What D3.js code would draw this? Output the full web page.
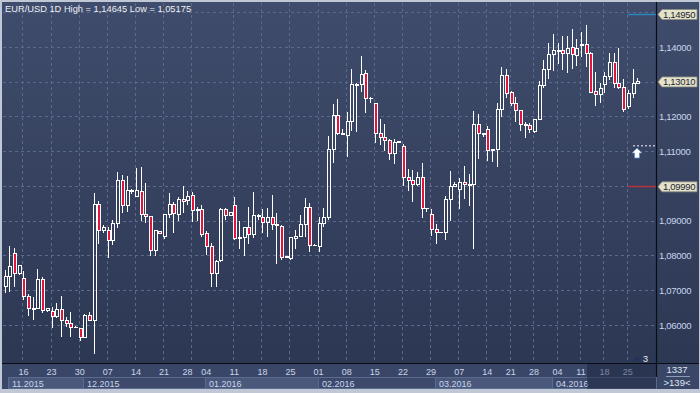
<!DOCTYPE html>
<html>
<head>
<meta charset="utf-8">
<script src="https://cdn.jsdelivr.net/npm/d3@7"></script>
<style>
  html, body { margin: 0; padding: 0; background: #c3cad8; }
  svg { display: block; }
  text { font-family: "Liberation Sans", Arial, sans-serif; }
</style>
</head>
<body>
<div id="chart"></div>
<script>
// EUR/USD daily candles, 11 Nov 2015 .. 27 Apr 2016 (incl. sunday bars)
var open = [1.0710,1.0739,1.0806,1.0749,1.0734,1.0683,1.0645,1.0647,1.0731,1.0641,1.0638,1.0624,1.0645,1.0612,1.0605,1.0593,1.0591,1.0565,1.0628,1.0614,
  1.0948,1.0871,1.0873,1.0843,1.0893,1.1015,1.0943,1.0987,1.0971,1.0984,1.0919,1.0912,1.0814,1.0869,1.0856,1.0919,1.0947,1.0919,1.0962,1.0958,
  1.0974,1.0929,1.0931,1.0864,1.0827,1.0749,1.0787,1.0933,1.0915,1.0945,1.0849,1.0851,1.0880,1.0861,1.0914,1.0910,1.0896,1.0910,1.0890,1.0883,
  1.0795,1.0792,1.0850,1.0856,1.0890,1.0939,1.0829,1.0827,1.0893,1.0910,1.1104,1.1202,1.1148,1.1144,1.1185,1.1290,1.1291,1.1324,1.1252,1.1238,
  1.1152,1.1140,1.1130,1.1094,1.1125,1.1113,1.1024,1.1017,1.1005,1.1024,1.0934,1.0917,1.0875,1.0866,1.0866,1.0960,1.0998,1.0989,1.1011,1.1003,
  1.1003,1.1178,1.1149,1.1164,1.1101,1.1106,1.1221,1.1317,1.1270,1.1238,1.1216,1.1178,1.1173,1.1156,1.1192,1.1289,1.1336,1.1379,1.1387,1.1389,
  1.1382,1.1398,1.1375,1.1405,1.1406,1.1382,1.1271,1.1264,1.1291,1.1315,1.1356,1.1296,1.1284,1.1228,1.1267,1.1294];
var high = [1.0758,1.0827,1.0822,1.0772,1.0755,1.0689,1.0681,1.0760,1.0739,1.0649,1.0653,1.0663,1.0683,1.0624,1.0637,1.0596,1.0592,1.0631,1.0638,1.0981,
  1.0957,1.0888,1.0883,1.0902,1.1041,1.1032,1.1029,1.0991,1.1051,1.1056,1.1008,1.0914,1.0872,1.0871,1.0920,1.0981,1.0955,1.0968,1.1000,1.0986,
  1.0984,1.0940,1.0945,1.0871,1.0835,1.0787,1.0936,1.0936,1.0924,1.0968,1.0899,1.0882,1.0939,1.0982,1.0920,1.0935,1.0936,1.0974,1.0921,1.0888,
  1.0798,1.0853,1.0873,1.0917,1.0965,1.0950,1.0832,1.0910,1.0938,1.1144,1.1235,1.1250,1.1163,1.1214,1.1336,1.1295,1.1374,1.1334,1.1255,1.1239,
  1.1193,1.1178,1.1135,1.1135,1.1129,1.1120,1.1049,1.1046,1.1041,1.1065,1.0936,1.0933,1.0890,1.0869,1.0972,1.1043,1.1012,1.1022,1.1058,1.1034,
  1.1217,1.1207,1.1151,1.1173,1.1107,1.1240,1.1342,1.1336,1.1273,1.1255,1.1217,1.1183,1.1180,1.1193,1.1302,1.1363,1.1411,1.1437,1.1412,1.1432,
  1.1432,1.1451,1.1422,1.1444,1.14645,1.1387,1.1327,1.1296,1.1327,1.1384,1.1384,1.1396,1.1307,1.1276,1.1336,1.1310];
var low = [1.0692,1.0696,1.0710,1.0744,1.0672,1.0627,1.0614,1.0645,1.0634,1.0638,1.0591,1.0619,1.0565,1.0595,1.0566,1.0591,1.0554,1.0564,1.0613,1.05175,
  1.0832,1.0865,1.0794,1.0830,1.0878,1.0923,1.0924,1.0976,1.0970,1.0899,1.0893,1.0799,1.0799,1.0864,1.0847,1.0907,1.0866,1.0900,1.0921,1.0945,
  1.0896,1.0899,1.0852,1.0801,1.0710,1.0710,1.0781,1.0902,1.0914,1.0846,1.0818,1.0799,1.0832,1.0851,1.0902,1.0864,1.0854,1.0873,1.0776,1.0787,
  1.0793,1.0787,1.0819,1.0853,1.0854,1.0809,1.0827,1.0811,1.0883,1.0902,1.1065,1.1148,1.1146,1.1083,1.1159,1.1156,1.1271,1.1211,1.1238,1.1125,
  1.1117,1.1101,1.1075,1.1062,1.1123,1.1001,1.0987,1.0955,1.1000,1.0909,1.0925,1.0856,1.0832,1.0864,1.0845,1.0900,1.0997,1.0934,1.0962,1.0942,
  1.0818,1.1077,1.1142,1.1073,1.1070,1.1056,1.1199,1.1252,1.1231,1.1185,1.1158,1.1139,1.1152,1.1152,1.1190,1.1283,1.1307,1.1332,1.1351,1.1334,
  1.1324,1.1336,1.1346,1.1372,1.1343,1.1268,1.1231,1.1240,1.1269,1.1305,1.1281,1.1278,1.1214,1.1221,1.1252,1.1294];
var close = [1.0739,1.0768,1.0749,1.0770,1.0683,1.0647,1.0647,1.0732,1.0641,1.0647,1.0624,1.0645,1.0612,1.0605,1.0593,1.0594,1.0565,1.0628,1.0614,1.0948,
  1.0871,1.0881,1.0843,1.0893,1.1015,1.0943,1.0987,1.0986,1.0986,1.0919,1.0912,1.0814,1.0871,1.0864,1.0919,1.0947,1.0921,1.0962,1.0955,1.0971,
  1.0929,1.0931,1.0859,1.0827,1.0749,1.0784,1.0933,1.0915,1.0923,1.0848,1.0851,1.0880,1.0861,1.0915,1.0915,1.0896,1.0910,1.0890,1.0885,1.0794,
  1.0796,1.0852,1.0855,1.0890,1.0939,1.0830,1.0830,1.0893,1.0910,1.1104,1.1202,1.1150,1.1152,1.1187,1.1293,1.1293,1.1322,1.1252,1.1253,1.1152,
  1.1140,1.1130,1.1094,1.1126,1.1127,1.1024,1.1017,1.1005,1.1024,1.0936,1.0936,1.0875,1.0867,1.0867,1.0960,1.1000,1.1005,1.1011,1.1003,1.1004,
  1.1178,1.1150,1.1151,1.1101,1.1106,1.1221,1.1317,1.1267,1.1238,1.1216,1.1178,1.1173,1.1163,1.1192,1.1289,1.1336,1.1377,1.1389,1.1391,1.1382,
  1.1396,1.1377,1.1396,1.1406,1.1382,1.1269,1.1264,1.1281,1.1315,1.1356,1.1296,1.1284,1.1221,1.1267,1.1296,1.1301];

var dayLabels = ["16","23","30","07","14","21","28","04","11","18","25","01","08","15","22","29","07","14","21","28","04","11","18","25"];
var dayIdx = [4,10,16,22,28,34,39,43,49,55,61,67,73,79,85,91,97,103,108,113,118,123,128,133];
var gridIdx = [4,10,16,22,28,34,40,49,55,61,67,73,79,85,91,97,103,108,113,118,123,128,133];
var monthLabels = ["11.2015","12.2015","01.2016","02.2016","03.2016","04.2016"];
var monthStart = [0,17,43,67,92,117];
var priceTicks = [1.06,1.07,1.08,1.09,1.10,1.11,1.12,1.13,1.14,1.15];
var markerValues = [1.1495, 1.1301, 1.0999];
var markerLines = ["#2b87bd", null, "#b8303c"];
var title = "EUR/USD 1D High = 1,14645 Low = 1,05175";

var W = 700, H = 393;
var L = 3, R = 656, T = 3, B = 363;

var svg = d3.select("#chart").append("svg")
  .attr("width", W).attr("height", H);

var defs = svg.append("defs");
var grad = defs.append("linearGradient").attr("id", "bg")
  .attr("x1", 0).attr("y1", 0).attr("x2", 0).attr("y2", 1);
grad.append("stop").attr("offset", "0%").attr("stop-color", "#3f4c6b");
grad.append("stop").attr("offset", "100%").attr("stop-color", "#2b3652");
defs.append("clipPath").attr("id", "plotclip").append("rect")
  .attr("x", L).attr("y", T).attr("width", R - L).attr("height", B - T);

// frame + panels
svg.append("rect").attr("x", 0).attr("y", 0).attr("width", W).attr("height", H).attr("fill", "#c0c8d6");
svg.append("rect").attr("x", 2).attr("y", 2).attr("width", W - 3).attr("height", 387).attr("fill", "url(#bg)");
svg.append("rect").attr("x", 2).attr("y", B).attr("width", W - 3).attr("height", 26).attr("fill", "#3a4667");

var x = d3.scaleLinear().domain([0, open.length - 1]).range([4.7, 637.2]);
var y = d3.scaleLinear().domain([1.06, 1.14]).range([325, 47]);

// grid
var grid = svg.append("g").attr("stroke", "#5a6a8c").attr("stroke-dasharray", "3,3")
  .attr("shape-rendering", "crispEdges");
grid.selectAll("line.h").data(priceTicks).enter().append("line")
  .attr("x1", L).attr("x2", R)
  .attr("y1", function(d) { return Math.round(y(d)) + 0.5; })
  .attr("y2", function(d) { return Math.round(y(d)) + 0.5; });
grid.selectAll("line.v").data(gridIdx).enter().append("line")
  .attr("y1", T).attr("y2", B)
  .attr("x1", function(d) { return Math.round(x(d) - 1) + 0.5; })
  .attr("x2", function(d) { return Math.round(x(d) - 1) + 0.5; });

// candles
var candles = d3.range(open.length).map(function(i) {
  return {i: i, o: open[i], h: high[i], l: low[i], c: close[i]};
});
var plot = svg.append("g").attr("clip-path", "url(#plotclip)")
  .attr("shape-rendering", "crispEdges");
var cg = plot.selectAll("g.candle").data(candles).enter().append("g");

cg.append("line")
  .attr("x1", function(d) { return Math.round(x(d.i)) + 0.5; })
  .attr("x2", function(d) { return Math.round(x(d.i)) + 0.5; })
  .attr("y1", function(d) { return y(d.h); })
  .attr("y2", function(d) { return y(Math.max(d.o, d.c)); })
  .attr("stroke", "#fff");
cg.append("line")
  .attr("x1", function(d) { return Math.round(x(d.i)) + 0.5; })
  .attr("x2", function(d) { return Math.round(x(d.i)) + 0.5; })
  .attr("y1", function(d) { return y(Math.min(d.o, d.c)); })
  .attr("y2", function(d) { return y(d.l); })
  .attr("stroke", "#fff");
cg.append("rect")
  .attr("x", function(d) { return Math.round(x(d.i)) - 1; })
  .attr("width", 3)
  .attr("y", function(d) { return y(Math.max(d.o, d.c)); })
  .attr("height", function(d) { return Math.max(0.5, y(Math.min(d.o, d.c)) - y(Math.max(d.o, d.c))); })
  .attr("fill", function(d) { return d.c < d.o ? "#e3143c" : "none"; })
  .attr("stroke", "#fff");

// marker lines, dotted level and arrow
markerValues.forEach(function(v, k) {
  if (!markerLines[k]) return;
  svg.append("line").attr("x1", 628).attr("x2", R)
    .attr("y1", Math.round(y(v)) + 0.5).attr("y2", Math.round(y(v)) + 0.5)
    .attr("stroke", markerLines[k]).attr("stroke-width", 1.5);
});
svg.append("line").attr("x1", 633).attr("x2", R - 1)
  .attr("y1", y(1.1116)).attr("y2", y(1.1116))
  .attr("stroke", "#b4bccb").attr("stroke-width", 1.5).attr("stroke-dasharray", "2,2");
svg.append("path")
  .attr("d", "M637,148 L642,153 L639.5,153 L639.5,158 L634.5,158 L634.5,153 L632,153 Z")
  .attr("fill", "#fff").attr("stroke", "#4f86c8").attr("stroke-width", 0.7);

// small "3" badge
svg.append("path").attr("d", "M633,361 L637,356 L641,361 Z").attr("fill", "#24335a");
svg.append("text").attr("x", 643).attr("y", 361.5).attr("font-size", 9).attr("fill", "#e8ecf4").text("3");

// axes separators
svg.append("line").attr("x1", R + 0.5).attr("x2", R + 0.5).attr("y1", 2).attr("y2", 389)
  .attr("stroke", "#0a0d14").attr("stroke-width", 1.2);
svg.append("line").attr("x1", 2).attr("x2", W - 1).attr("y1", B + 0.5).attr("y2", B + 0.5)
  .attr("stroke", "#0a0d14").attr("stroke-width", 1.2);

// price labels (the ones behind a price marker are left out)
var fmt = function(v) { return d3.format(".5f")(v).replace(".", ","); };
var freeTicks = priceTicks.filter(function(d) {
  var clear = markerValues.every(function(m) { return Math.abs(y(m) - y(d)) > 9; });
  return clear && y(d) > 20 && y(d) < 355;
});
svg.append("g").selectAll("text").data(freeTicks)
  .enter().append("text")
  .attr("x", 659).attr("y", function(d) { return y(d) + 3.5; })
  .attr("font-size", 9.5).attr("letter-spacing", -0.3).attr("fill", "#c9d6ec")
  .text(fmt);

// price markers
var mk = svg.append("g").selectAll("g").data(markerValues).enter().append("g")
  .attr("transform", function(d) { return "translate(0," + y(d) + ")"; });
mk.append("path").attr("d", "M658,0.5 L662,-4.5 L697,-4.5 L697,5.5 L662,5.5 Z")
  .attr("fill", "#e4e2c9").attr("stroke", "#8c8c84").attr("stroke-width", 0.8);
mk.append("text").attr("x", 663).attr("y", 4).attr("font-size", 9.5).attr("letter-spacing", -0.3)
  .attr("fill", "#1e2535").text(fmt);

// day labels
svg.append("g").selectAll("text").data(dayIdx).enter().append("text")
  .attr("x", function(d) { return x(d); })
  .attr("y", 375).attr("text-anchor", "middle").attr("font-size", 9).attr("fill", "#c9d6ec")
  .text(function(d, i) { return dayLabels[i]; });

// month boxes
var mEnd = monthStart.slice(1).concat([open.length + 4]);
var mg = svg.append("g").selectAll("g").data(monthStart).enter().append("g");
mg.append("rect")
  .attr("x", function(d) { return Math.max(8, Math.round(x(d)) - 1) + 0.5; })
  .attr("y", 377.5)
  .attr("width", function(d, i) { return Math.min(R, Math.round(x(mEnd[i])) - 1) - Math.max(8, Math.round(x(d)) - 1); })
  .attr("height", 11)
  .attr("fill", function(d, i) { return i % 2 === 0 ? "#4a587b" : "#3d4a6c"; })
  .attr("stroke", "#5b6b8f").attr("stroke-width", 1);
mg.append("text")
  .attr("x", function(d) { return Math.max(8, Math.round(x(d)) - 1) + 4; })
  .attr("y", 386.5).attr("font-size", 9).attr("fill", "#c9d6ec")
  .text(function(d, i) { return monthLabels[i]; });

// shaded part at the right end of the time axis
svg.append("rect").attr("x", 587).attr("y", B + 1).attr("width", R - 587).attr("height", 25)
  .attr("fill", "#18223a").attr("opacity", 0.45);

// bar counter
svg.append("text").attr("x", 677).attr("y", 373).attr("text-anchor", "middle")
  .attr("font-size", 9.5).attr("fill", "#dfe6f2").text("1337");
svg.append("line").attr("x1", 666).attr("x2", 690).attr("y1", 376.5).attr("y2", 376.5)
  .attr("stroke", "#8d9ab4");
svg.append("text").attr("x", 677).attr("y", 386).attr("text-anchor", "middle")
  .attr("font-size", 9.5).attr("fill", "#dfe6f2").text(">139<");

// title
svg.append("text").attr("x", 5).attr("y", 12).attr("font-size", 9.3).attr("fill", "#eef1f6")
  .text(title);
</script>
</body>
</html>
